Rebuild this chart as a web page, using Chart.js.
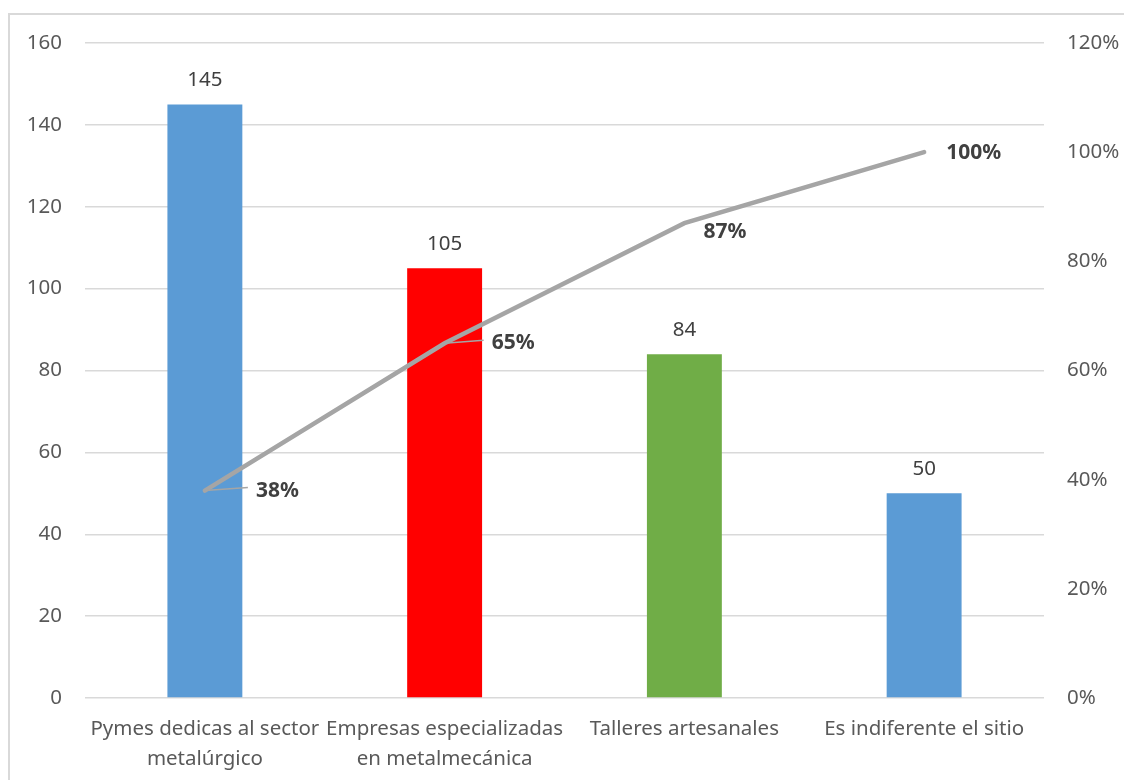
<!DOCTYPE html>
<html>
<head>
<meta charset="utf-8">
<script src="https://cdn.jsdelivr.net/npm/chart.js@4/dist/chart.umd.min.js"></script>
<style>
  html, body { margin: 0; padding: 0; background: #fff; overflow: hidden; }
  #wrap { position: relative; width: 1124px; height: 780px; }
  #frame { position: absolute; left: 8px; top: 13px; width: 1200px; height: 800px; border: 2px solid #d9d9d9; box-sizing: border-box; }
  #chart { position: absolute; left: 0; top: 0; }
</style>
</head>
<body>
<div id="wrap">
  <div id="frame"></div>
  <canvas id="chart" width="1124" height="780"></canvas>
</div>
<script>
const categories = [
    ['Pymes dedicas al sector', 'metalúrgico'],
    ['Empresas especializadas', 'en metalmecánica'],
    'Talleres artesanales',
    'Es indiferente el sitio'
];
const counts = [145, 105, 84, 50];
const cumulativePct = [38, 65, 87, 100];
const barColors = ['#5B9BD5', '#FF0000', '#70AD47', '#5B9BD5'];

const FONT = '"Noto Sans", "Open Sans", sans-serif';
const TEXT_SIZE = 20.5;

// where each percentage label sits relative to its point, and whether it gets a leader line
const pctLabelOffsets = [
    { dx: 51, dy: 0, leader: true },
    { dx: 47, dy: 0, leader: true },
    { dx: 19, dy: 9, leader: false },
    { dx: 22, dy: 1, leader: false }
];

const valueLabels = {
    id: 'valueLabels',
    afterDatasetsDraw(chart) {
        const ctx = chart.ctx;
        ctx.save();

        // counts above the bars
        const barMeta = chart.getDatasetMeta(0);
        ctx.font = TEXT_SIZE + 'px ' + FONT;
        ctx.fillStyle = '#404040';
        ctx.textAlign = 'center';
        ctx.textBaseline = 'alphabetic';
        barMeta.data.forEach((bar, i) => {
            ctx.fillText(String(counts[i]), bar.x, bar.y - 18);
        });

        // cumulative percentages next to the line
        const lineMeta = chart.getDatasetMeta(1);
        ctx.font = 'bold 21px ' + FONT;
        ctx.textAlign = 'left';
        ctx.textBaseline = 'middle';
        lineMeta.data.forEach((pt, i) => {
            const off = pctLabelOffsets[i];
            const tx = pt.x + off.dx;
            const ty = pt.y + off.dy;
            if (off.leader) {
                ctx.strokeStyle = '#A5A5A5';
                ctx.lineWidth = 1.5;
                ctx.beginPath();
                ctx.moveTo(pt.x, pt.y);
                ctx.lineTo(tx - 8, ty - 3);
                ctx.stroke();
            }
            ctx.fillStyle = '#404040';
            ctx.fillText(cumulativePct[i] + '%', tx, ty);
        });
        ctx.restore();
    }
};

const ctx = document.querySelector('#chart').getContext('2d');
new Chart(ctx, {
    type: 'bar',
    data: {
        labels: categories,
        datasets: [{
            type: 'bar',
            data: counts,
            backgroundColor: barColors,
            yAxisID: 'y',
            categoryPercentage: 1,
            barPercentage: 0.3125,
            order: 1
        }, {
            type: 'line',
            data: cumulativePct,
            borderColor: '#A5A5A5',
            borderWidth: 4.5,
            borderCapStyle: 'round',
            pointRadius: 0,
            tension: 0,
            yAxisID: 'y1',
            order: 0
        }]
    },
    plugins: [valueLabels],
    options: {
        responsive: false,
        animation: false,
        layout: { padding: { top: 43, left: 0, right: 0, bottom: 0 } },
        plugins: {
            legend: { display: false },
            tooltip: { enabled: false }
        },
        scales: {
            x: {
                grid: { display: false },
                border: { display: false },
                ticks: {
                    color: '#595959',
                    font: { family: FONT, size: TEXT_SIZE, lineHeight: 1.46 },
                    maxRotation: 0,
                    autoSkip: false,
                    padding: 8
                },
                afterFit(scale) { scale.height = 82; }
            },
            y: {
                position: 'left',
                min: 0,
                max: 160,
                ticks: {
                    stepSize: 20,
                    color: '#595959',
                    font: { family: FONT, size: TEXT_SIZE },
                    padding: 23
                },
                grid: { color: '#d9d9d9', lineWidth: 1.5, drawTicks: false },
                border: { display: false },
                afterFit(scale) { scale.width = 85; }
            },
            y1: {
                position: 'right',
                min: 0,
                max: 120,
                ticks: {
                    stepSize: 20,
                    color: '#595959',
                    font: { family: FONT, size: TEXT_SIZE },
                    padding: 23,
                    callback: v => v + '%'
                },
                grid: { drawOnChartArea: false, drawTicks: false },
                border: { display: false },
                afterFit(scale) { scale.width = 80; }
            }
        }
    }
});
</script>
</body>
</html>
